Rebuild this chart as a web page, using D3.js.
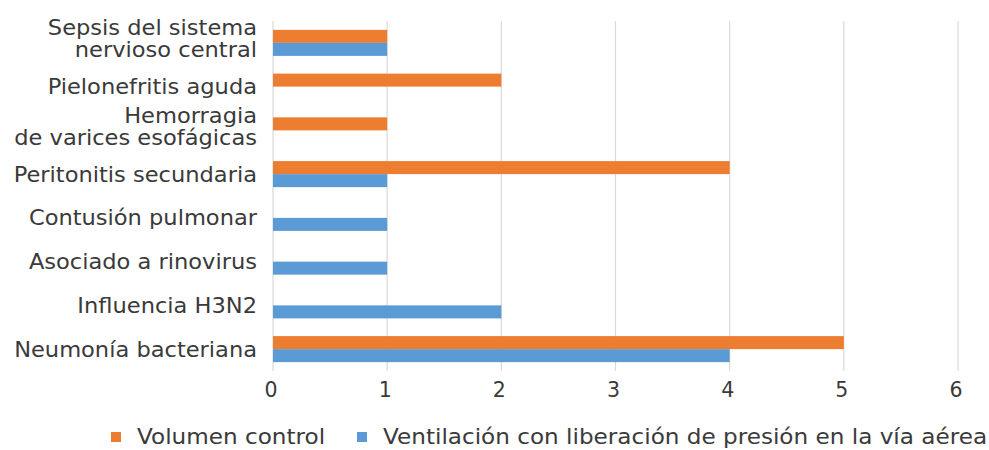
<!DOCTYPE html>
<html>
<head>
<meta charset="utf-8">
<script src="https://cdn.jsdelivr.net/npm/d3@7"></script>
<style>
  html, body { margin: 0; padding: 0; background: #fff; }
  svg { display: block; }
  text { font-family: "DejaVu Sans", Verdana, sans-serif; fill: #3a3a3a; }
</style>
</head>
<body>
<svg id="chart" width="989" height="450"></svg>
<script>
// Diagnoses, top to bottom; multi-line labels are split into their lines.
const categories = [
  ["Sepsis del sistema", "nervioso central"],
  ["Pielonefritis aguda"],
  ["Hemorragia", "de varices esofágicas"],
  ["Peritonitis secundaria"],
  ["Contusión pulmonar"],
  ["Asociado a rinovirus"],
  ["Influencia H3N2"],
  ["Neumonía bacteriana"]
];
const seriesNames = ["Volumen control", "Ventilación con liberación de presión en la vía aérea"];
const volumenControl = [1, 2, 1, 4, 0, 0, 0, 5];
const ventilacionAPRV = [1, 0, 0, 1, 1, 1, 2, 4];
const xTicks = [0, 1, 2, 3, 4, 5, 6];

const colors = ["#ED7D31", "#5B9BD5"];
const seriesValues = [volumenControl, ventilacionAPRV];
const keys = categories.map(c => c.join(" "));

const rows = keys.map((k, i) => ({
  key: k,
  lines: categories[i],
  values: seriesNames.map((s, j) => ({ series: s, value: seriesValues[j][i], color: colors[j] }))
}));

const svg = d3.select("#chart");
const fontSize = 20.5;

const x = d3.scaleLinear().domain([0, 6]).range([273, 958]);
const y0 = d3.scaleBand().domain(keys).range([21, 371]).padding(0);
const y1 = d3.scaleBand().domain(seriesNames).range([0, y0.bandwidth()]).paddingInner(0).paddingOuter(0.68);

// Helper: horizontally stretched text anchored at (px, py)
function stretchedText(parent, px, py, str, anchor, stretch) {
  const g = parent.append("g").attr("transform", `translate(${px},${py}) scale(${stretch},1)`);
  g.append("text")
    .attr("text-anchor", anchor)
    .style("font-size", fontSize + "px")
    .text(str);
  return g;
}

// Vertical grid lines
svg.append("g")
  .selectAll("line")
  .data(xTicks)
  .join("line")
  .attr("x1", d => x(d)).attr("x2", d => x(d))
  .attr("y1", 21).attr("y2", 371)
  .attr("stroke", "#d9d9d9")
  .attr("stroke-width", 1.2);

// Bars
const groups = svg.append("g")
  .selectAll("g")
  .data(rows)
  .join("g")
  .attr("transform", d => `translate(0,${y0(d.key)})`);

groups.selectAll("rect")
  .data(d => d.values.filter(v => v.value > 0))
  .join("rect")
  .attr("x", x(0))
  .attr("y", d => y1(d.series))
  .attr("width", d => x(d.value) - x(0))
  .attr("height", y1.bandwidth())
  .attr("fill", d => d.color);

// Category labels
const labelLayer = svg.append("g");
const lineHeight = 22;
rows.forEach(r => {
  const cy = y0(r.key) + y0.bandwidth() / 2;
  const n = r.lines.length;
  const adj = n > 1 ? -4 : 0;
  r.lines.forEach((line, i) => {
    const by = cy + 7.5 + (i - (n - 1) / 2) * lineHeight + adj;
    stretchedText(labelLayer, 257, by, line, "end", 1.1);
  });
});

// X tick labels
const tickLayer = svg.append("g");
xTicks.forEach(t => stretchedText(tickLayer, x(t) - 2, 397, d3.format("d")(t), "middle", 1.0));

// Legend
const legend = svg.append("g");
const legendItems = [
  { name: seriesNames[0], color: colors[0], sx: 111, tx: 137 },
  { name: seriesNames[1], color: colors[1], sx: 357, tx: 383 }
];
legendItems.forEach(it => {
  legend.append("rect")
    .attr("x", it.sx).attr("y", 432)
    .attr("width", 10).attr("height", 10)
    .attr("fill", it.color);
  stretchedText(legend, it.tx, 444, it.name, "start", 1.128);
});
</script>
</body>
</html>
